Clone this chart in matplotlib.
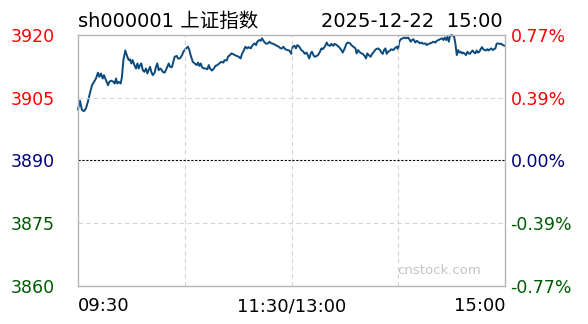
import matplotlib
matplotlib.use('Agg')

import matplotlib.pyplot as plt

# intraday index, minutes after 09:30 (lunch break removed)
minutes = [0, 1.1, 2.2, 3.4, 4.5, 5.6, 6.7, 7.9, 9.0, 10.1, 11.2, 12.0, 12.9, 13.9, 14.6,
           15.7, 16.9, 17.6, 18.7, 19.9, 20.6, 21.4, 22.1, 22.9, 24.0, 24.7, 25.5, 26.6,
           27.7, 28.5, 29.2, 30.0, 30.7, 31.7, 32.6, 33.4, 34.1, 34.9, 35.6, 36.4, 37.3,
           38.2, 39.0, 39.7, 40.5, 41.2, 42.0, 43.1, 43.8, 44.6, 45.3, 46.1, 46.8, 47.6,
           48.7, 49.8, 51.0, 51.7, 52.8, 53.6, 54.3, 55.5, 56.2, 57.3, 58.5, 59.2, 60.3,
           61.8, 62.6, 63.3, 64.5, 65.6, 66.7, 67.5, 68.2, 69.0, 69.7, 70.8, 71.9, 72.7,
           73.5, 74.2, 75.3, 76.4, 77.2, 78.3, 79.4, 80.6, 81.7, 82.4, 83.6, 84.3, 85.4,
           86.2, 86.9, 88.1, 89.2, 90.3, 91.4, 92.2, 93.3, 94.1, 95.2, 95.9, 97.1, 98.2,
           99.3, 100.1, 100.8, 101.9, 102.7, 103.4, 104.6, 105.7, 106.8, 107.6, 108.7,
           109.8, 110.9, 112.0, 112.8, 113.9, 114.7, 115.4, 116.5, 117.7, 118.8, 119.9,
           120.7, 121.8, 122.5, 123.3, 124.4, 125.5, 126.7, 127.4, 128.5, 129.3, 130.0,
           130.8, 131.5, 132.3, 133.0, 134.2, 134.9, 136.0, 136.8, 137.5, 138.7, 139.8,
           140.5, 141.7, 142.4, 143.5, 144.3, 145.4, 146.5, 147.3, 148.0, 148.8, 149.9,
           151.0, 151.8, 152.9, 153.6, 154.8, 155.9, 156.6, 157.4, 158.1, 159.3, 160.0,
           161.1, 161.9, 162.6, 163.4, 164.5, 165.3, 166.0, 166.8, 167.5, 168.6, 169.8,
           170.5, 171.3, 172.0, 172.8, 173.5, 174.3, 175.4, 176.1, 177.3, 178.0, 179.1,
           179.9, 180.6, 181.4, 182.5, 183.6, 184.4, 185.5, 186.2, 187.0, 187.7, 188.5,
           189.6, 190.4, 191.1, 192.2, 193.0, 194.1, 195.2, 196.0, 197.1, 197.9, 199.0,
           199.7, 200.9, 201.6, 202.7, 203.5, 204.6, 205.4, 206.1, 206.9, 207.6, 208.4,
           209.1, 209.9, 210.6, 211.4, 212.1, 212.9, 213.6, 214.4, 215.1, 215.9, 216.6,
           217.4, 218.1, 218.9, 219.6, 220.3, 221.1, 221.8, 222.6, 223.3, 224.1, 224.8,
           225.6, 226.3, 227.1, 227.8, 228.6, 229.3, 230.1, 230.8, 231.6, 232.3, 233.1,
           233.8, 234.6, 235.3, 236.1, 236.8, 238.0, 238.7, 240.0]
prices = [3902.2, 3904.3, 3902.1, 3901.8, 3902.5, 3904.1, 3906.1, 3908.0, 3908.8, 3909.6,
          3911.0, 3910.0, 3910.8, 3909.6, 3910.4, 3909.2, 3908.0, 3908.8, 3909.1, 3908.8,
          3908.4, 3909.6, 3908.4, 3908.8, 3908.4, 3910.0, 3914.0, 3916.3, 3914.8, 3914.0,
          3914.2, 3913.2, 3914.0, 3912.8, 3912.0, 3913.2, 3912.0, 3912.8, 3913.2, 3911.6,
          3911.2, 3912.0, 3910.8, 3911.6, 3912.4, 3911.2, 3910.4, 3911.0, 3912.4, 3913.2,
          3911.6, 3912.0, 3911.8, 3911.2, 3911.0, 3912.0, 3913.2, 3912.4, 3912.3, 3913.6,
          3914.8, 3915.0, 3914.4, 3914.4, 3915.2, 3916.0, 3916.6,
          3917.2, 3916.4, 3915.2, 3913.6, 3913.2, 3912.8, 3913.4, 3912.6, 3913.2, 3912.3,
          3912.0, 3912.0, 3911.8, 3912.8, 3912.0, 3911.5, 3912.0, 3912.6, 3912.8, 3913.2,
          3913.6, 3913.4, 3914.0, 3913.9, 3914.8, 3915.2, 3915.6, 3915.5, 3915.2, 3915.0,
          3914.8, 3914.4, 3915.5, 3916.4, 3917.2, 3916.8, 3917.1, 3916.8, 3917.6, 3918.0,
          3917.6, 3918.4, 3918.8, 3918.6, 3919.2, 3918.4, 3917.9, 3918.0, 3918.4, 3918.0,
          3917.9, 3917.6, 3917.4, 3917.2, 3916.8, 3916.8, 3917.2, 3916.6, 3916.4, 3916.3,
          3915.5,
          3917.2, 3917.4, 3916.8, 3917.6, 3917.2, 3916.4, 3916.0, 3915.5, 3915.8, 3915.0,
          3914.4, 3915.6, 3916.0, 3915.2, 3914.8, 3915.0, 3915.2, 3916.0, 3916.8, 3916.6,
          3917.2, 3918.2, 3917.6, 3917.4, 3917.9, 3917.4, 3917.9, 3917.6, 3917.2, 3916.8,
          3916.4, 3915.8, 3916.8, 3918.0, 3918.2, 3918.0, 3917.6, 3917.2, 3916.8, 3915.6,
          3916.4, 3916.0, 3915.6, 3915.5, 3915.0, 3914.4, 3915.6, 3915.2, 3914.8, 3915.5,
          3915.8, 3916.3, 3916.6, 3916.8, 3916.4, 3915.8, 3915.5, 3916.4, 3916.8, 3915.5,
          3916.0, 3916.3, 3916.6, 3916.4, 3916.8, 3917.2, 3916.6,
          3918.4, 3919.0, 3919.2, 3919.4, 3919.2, 3919.4, 3919.0, 3918.4, 3918.8, 3919.0,
          3918.2, 3918.6, 3918.4, 3918.0, 3918.2, 3917.9, 3918.0, 3917.6, 3917.9, 3918.0,
          3918.2, 3918.4, 3918.2, 3918.6, 3918.8, 3919.0, 3919.2, 3918.8, 3919.4, 3918.8,
          3919.6, 3918.4, 3919.8, 3920.0, 3919.8, 3919.6, 3918.0, 3915.2, 3916.4, 3915.8,
          3916.0, 3915.6, 3915.8, 3915.5, 3915.2, 3916.0, 3915.6, 3915.5, 3916.0, 3916.3,
          3915.8, 3915.6, 3916.3, 3915.8, 3916.0, 3916.6, 3917.1, 3916.6, 3916.4, 3916.3,
          3916.6, 3916.3, 3916.6, 3916.8, 3916.4, 3916.6, 3916.8, 3917.9, 3918.0, 3917.9,
          3917.9, 3917.6, 3917.4]

prev_close = 3890
y_ticks = [3920, 3905, 3890, 3875, 3860]
y_labels = ['3920', '3905', '3890', '3875', '3860']
pct_labels = ['0.77%', '0.39%', '0.00%', '-0.39%', '-0.77%']
tick_colors = ['#ff0000', '#ff0000', '#000080', '#005a00', '#005a00']
x_ticks = [0, 120, 240]
x_labels = ['09:30', '11:30/13:00', '15:00']

fig = plt.figure(figsize=(5.88, 3.24), dpi=100)
ax = fig.add_axes([78 / 588, 38 / 324, 427 / 588, 251 / 324])

ax.plot(minutes, prices, color='#0b4a7c', linewidth=1.4, clip_on=False)

ax.set_xlim(0, 240)
ax.set_ylim(3860, 3920)

# grid
for m in [60, 120, 180]:
    ax.axvline(m, color='#d4d4d4', linestyle=(0, (4, 3)), linewidth=0.8)
for v in [3905, 3875]:
    ax.axhline(v, color='#d4d4d4', linestyle=(0, (4, 3)), linewidth=0.8)
ax.axhline(prev_close, color='black', linestyle=(0, (2, 1.5)), linewidth=0.8)

for s in ax.spines.values():
    s.set_color('#b4b4b4')
    s.set_linewidth(1.0)

ax.set_yticks(y_ticks)
ax.set_yticklabels(y_labels)
ax.tick_params(axis='y', length=0, pad=16.5, labelsize=12.5)
for lbl, c in zip(ax.get_yticklabels(), tick_colors):
    lbl.set_color(c)

ax2 = ax.twinx()
ax2.set_ylim(3860, 3920)
ax2.set_yticks(y_ticks)
ax2.set_yticklabels(pct_labels)
ax2.tick_params(axis='y', length=0, pad=4, labelsize=12.5)
for lbl, c in zip(ax2.get_yticklabels(), tick_colors):
    lbl.set_color(c)
for s in ax2.spines.values():
    s.set_visible(False)

ax.set_xticks(x_ticks)
ax.set_xticklabels(x_labels)
ax.tick_params(axis='x', length=0, pad=8, labelsize=13)
xl = ax.get_xticklabels()
xl[0].set_horizontalalignment('left')
xl[2].set_horizontalalignment('right')

fig.text(78 / 588, 1 - 27 / 324, 'sh000001 上证指数', fontsize=14,
         family=['DejaVu Sans', 'Noto Sans CJK SC'], ha='left', va='baseline')
fig.text(503 / 588, 1 - 27 / 324, '2025-12-22  15:00', fontsize=14,
         ha='right', va='baseline')
ax.text(0.845, 0.06, 'cnstock.com', transform=ax.transAxes,
        fontsize=9.5, color='#c4c4c4', ha='center', va='center')

plt.savefig('out.png', dpi=100)
